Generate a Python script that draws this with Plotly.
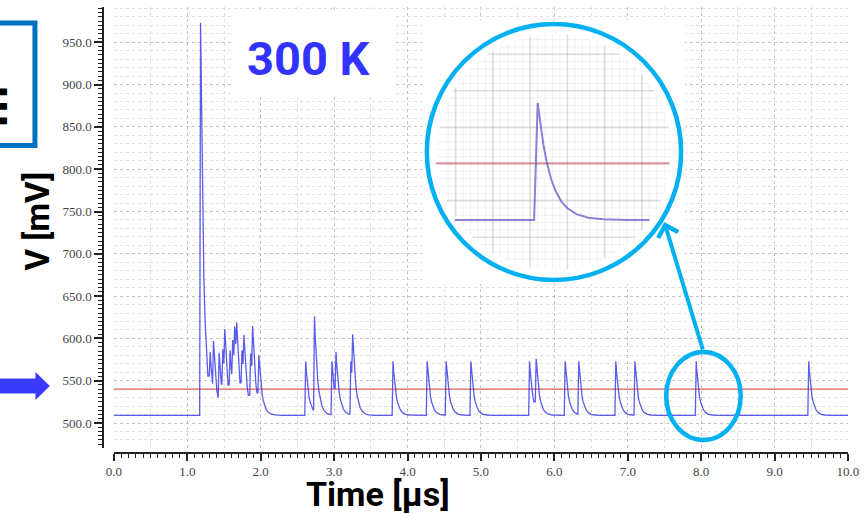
import numpy as np
import plotly.graph_objects as go

# ---------------- data ----------------
BASELINE_MV = 509.0
THRESHOLD_MV = 540.0
TIME_RANGE_US = [0.0, 10.0]
THRESH_T_US = [0.0, 10.0]
THRESH_V_MV = [540.0, 540.0]

SPIKE_TIMES_US = [1.168, 1.299, 1.344, 1.421, 1.471, 1.498, 1.570, 1.606, 1.633, 1.660,
                  1.732, 1.759, 1.850, 1.877, 1.962,
                  2.600, 2.720, 2.958, 3.013, 3.215, 3.240, 3.790, 4.255, 4.514, 4.850,
                  5.650, 5.740, 6.135, 6.320, 6.825, 7.085, 7.920, 9.453]
SPIKE_PEAKS_MV = [973, 584, 597, 583, 587, 611, 586, 598, 614, 619,
                  586, 604, 582, 615, 580,
                  573, 626, 573, 584, 573, 605, 573, 573, 573, 573,
                  573, 576, 573, 573, 573, 573, 573, 573]
RISE_US = 0.012
DECAY_OFFSETS_US = [0.0, 0.004, 0.01, 0.02, 0.03, 0.045, 0.06, 0.08, 0.10, 0.13, 0.17, 0.22, 0.30]
DECAY_FRACTIONS = [1.0, 0.93, 0.80, 0.63, 0.50, 0.35, 0.25, 0.155, 0.10, 0.05, 0.02, 0.007, 0.0]

X_TICKS = [0, 1, 2, 3, 4, 5, 6, 7, 8, 9, 10]
Y_TICKS = [500, 550, 600, 650, 700, 750, 800, 850, 900, 950]

INSET_SPIKE_T = 7.920           # the spike shown magnified in the circle
INSET_BLUE_WINDOW = [7.653, 8.307]
INSET_RED_WINDOW = [7.59, 8.373]

# ---------------- build the waveform from the spike list ----------------
wt = [TIME_RANGE_US[0]]
wv = [BASELINE_MV]
n = len(SPIKE_TIMES_US)
for i, (ts, pk) in enumerate(zip(SPIKE_TIMES_US, SPIKE_PEAKS_MV)):
    nxt = SPIKE_TIMES_US[i + 1] if i + 1 < n else TIME_RANGE_US[1]
    wt.append(ts)
    wv.append(wv[-1])
    tp = ts + RISE_US
    for off, fr in zip(DECAY_OFFSETS_US, DECAY_FRACTIONS):
        t = tp + off
        if t >= nxt:
            break
        wt.append(t)
        wv.append(BASELINE_MV + (pk - BASELINE_MV) * fr)
wt.append(TIME_RANGE_US[1])
wv.append(BASELINE_MV)
wt = np.array(wt)
wv = np.array(wv)

sel = (wt > INSET_BLUE_WINDOW[0]) & (wt < INSET_BLUE_WINDOW[1])
it = np.concatenate([[INSET_BLUE_WINDOW[0]], wt[sel], [INSET_BLUE_WINDOW[1]]])
iv = np.concatenate([[BASELINE_MV], wv[sel], [BASELINE_MV]])

# ---------------- pixel geometry helpers ----------------
W, H = 866, 516
ML, MR, MT, MB = 103, 13, 7, 63
PW, PH = W - ML - MR, H - MT - MB


def px(x):
    return (x - ML) / PW


def py(y):
    return (H - MB - y) / PH


# main axes
X_PIX = (114, 853)
Y_PIX = (7, 448)
Y_RANGE = [500 - (448 - 423) / 0.846, 500 + (423 - 7) / 0.846]

# inset (magnifier) geometry
CX, CY, R = 557, 152, 128
IX0, IX1, IY0, IY1 = 425, 689, 20, 284
I_T_PIX, I_PX_PER_US = 537, 300.0
I_BASE_PIX, I_PX_PER_MV = 220, 1.828


def ix(p):
    return INSET_SPIKE_T + (p - I_T_PIX) / I_PX_PER_US


def iy(p):
    return BASELINE_MV + (I_BASE_PIX - p) / I_PX_PER_MV


fig = go.Figure()

# empty traces that only carry the overlay grid axes
fig.add_trace(go.Scatter(x=[], y=[], xaxis="x3", yaxis="y", showlegend=False, hoverinfo="skip"))
fig.add_trace(go.Scatter(x=[], y=[], xaxis="x", yaxis="y3", showlegend=False, hoverinfo="skip"))

fig.add_trace(go.Scatter(x=THRESH_T_US, y=THRESH_V_MV, mode="lines",
                         line=dict(color="rgba(222,70,70,0.85)", width=1.3),
                         showlegend=False, hoverinfo="skip"))
fig.add_trace(go.Scatter(x=wt, y=wv, mode="lines",
                         line=dict(color="rgba(45,45,232,0.78)", width=1.3),
                         showlegend=False, hoverinfo="skip"))

# inset traces
fig.add_trace(go.Scatter(x=INSET_RED_WINDOW, y=[THRESHOLD_MV, THRESHOLD_MV], mode="lines",
                         xaxis="x2", yaxis="y2",
                         line=dict(color="rgba(205,70,90,0.55)", width=2),
                         showlegend=False, hoverinfo="skip"))
fig.add_trace(go.Scatter(x=it, y=iv, mode="lines", xaxis="x2", yaxis="y2",
                         line=dict(color="rgba(95,80,205,0.72)", width=2),
                         showlegend=False, hoverinfo="skip"))

shapes = []
# white disc of the magnifier (inset layer, below inset traces)
shapes.append(dict(type="circle", xref="x2", yref="y2", layer="below",
                   x0=ix(CX - R - 1), x1=ix(CX + R + 1), y0=iy(CY + R + 1), y1=iy(CY - R - 1),
                   fillcolor="white", line=dict(width=0)))
# inset grid (chords inside the circle)
RG = 118
for k in range(-40, 41):
    xp = 533 + k * 7.5
    d = xp - CX
    if abs(d) >= RG - 4:
        continue
    h = (RG ** 2 - d ** 2) ** 0.5
    major = (k % 5 == 0)
    shapes.append(dict(type="line", xref="x2", yref="y2", layer="below",
                       x0=ix(xp), x1=ix(xp), y0=iy(CY - h), y1=iy(CY + h),
                       line=dict(color="rgba(165,165,165,0.38)" if major else "rgba(205,205,205,0.28)",
                                 width=1.6 if major else 1)))
for k in range(-40, 41):
    yp = 164 + k * 7.32
    d = yp - CY
    if abs(d) >= RG - 4:
        continue
    h = (RG ** 2 - d ** 2) ** 0.5
    major = (k % 5 == 0)
    shapes.append(dict(type="line", xref="x2", yref="y2", layer="below",
                       x0=ix(CX - h), x1=ix(CX + h), y0=iy(yp), y1=iy(yp),
                       line=dict(color="rgba(165,165,165,0.38)" if major else "rgba(205,205,205,0.28)",
                                 width=1.6 if major else 1)))

# white box behind "300 K"
shapes.append(dict(type="rect", xref="paper", yref="paper", layer="above",
                   x0=px(233), x1=px(398), y0=py(97), y1=py(10),
                   fillcolor="white", line=dict(width=0)))
# magnifier circle outline
shapes.append(dict(type="circle", xref="paper", yref="paper", layer="above",
                   x0=px(CX - R), x1=px(CX + R), y0=py(CY + R), y1=py(CY - R),
                   line=dict(color="#00b0f0", width=4.5)))
# small ellipse around the spike at 8 us
shapes.append(dict(type="circle", xref="paper", yref="paper", layer="above",
                   x0=px(670), x1=px(745), y0=py(440), y1=py(352),
                   line=dict(color="#00b0f0", width=4.5)))
# left blue frame (partially cut)
shapes.append(dict(type="rect", xref="paper", yref="paper", layer="above",
                   x0=px(-20), x1=px(34.5), y0=py(145.5), y1=py(23),
                   line=dict(color="#0070c0", width=5)))
# left block arrow
pts = [(-6, 378.5), (35, 378.5), (35, 372), (49.5, 386), (35, 400), (35, 393.5), (-6, 393.5)]
path = "M " + " L ".join(f"{px(a):.5f},{py(b):.5f}" for a, b in pts) + " Z"
shapes.append(dict(type="path", xref="paper", yref="paper", layer="above", path=path,
                   fillcolor="#3a3aff", line=dict(width=0)))

BOLDF = "Roboto, Liberation Sans, Arial, sans-serif"
SERIF = "Liberation Serif, Times New Roman, DejaVu Serif, serif"

annotations = [
    dict(text="<b>300 K</b>", xref="paper", yref="paper", x=px(310), y=py(58),
         xanchor="center", yanchor="middle", showarrow=False,
         font=dict(family=BOLDF, size=47, color="#3333ff")),
    dict(text="<b>Time [µs]</b>", xref="paper", yref="paper", x=px(380), y=py(494),
         xanchor="center", yanchor="middle", showarrow=False,
         font=dict(family=BOLDF, size=34, color="black")),
    dict(text="<b>V [mV]</b>", xref="paper", yref="paper", x=px(37), y=py(221),
         xanchor="center", yanchor="middle", showarrow=False, textangle=-90,
         font=dict(family=BOLDF, size=33, color="black")),
    dict(text="<b>m</b>", xref="paper", yref="paper", x=px(-10), y=py(106),
         xanchor="center", yanchor="middle", showarrow=False, textangle=-90,
         font=dict(family=BOLDF, size=47, color="black")),
    dict(text="", xref="paper", yref="paper", x=px(668), y=py(222),
         ax=39, ay=129, showarrow=True, arrowhead=4, arrowsize=1, arrowwidth=4,
         arrowcolor="#00b0f0", standoff=0, startstandoff=0),
]

fig.update_layout(
    width=W, height=H,
    margin=dict(l=ML, r=MR, t=MT, b=MB, pad=0),
    paper_bgcolor="white", plot_bgcolor="white",
    showlegend=False,
    xaxis=dict(domain=[px(X_PIX[0]), px(X_PIX[1])], anchor="free", position=0,
               range=TIME_RANGE_US, tickvals=X_TICKS, tickformat=".1f",
               ticks="outside", ticklen=7, tickwidth=1.5, tickcolor="#222",
               showline=True, linecolor="#222", linewidth=1.5, zeroline=False,
               showgrid=True, gridcolor="#c4c4c4", griddash="dot", gridwidth=1,
               tickfont=dict(family=SERIF, size=13, color="#444"),
               minor=dict(dtick=0.1, ticklen=4, tickwidth=1.2, tickcolor="#222",
                          ticks="outside", showgrid=False)),
    yaxis=dict(domain=[py(Y_PIX[1]), py(Y_PIX[0])], anchor="free", position=0,
               range=Y_RANGE, tickvals=Y_TICKS, tickformat=".1f",
               ticks="outside", ticklen=8, tickwidth=1.5, tickcolor="#222",
               showline=True, linecolor="#222", linewidth=1.5, zeroline=False,
               showgrid=True, gridcolor="#c4c4c4", griddash="dot", gridwidth=1,
               tickfont=dict(family=SERIF, size=13, color="#444"),
               minor=dict(dtick=5, tick0=0, ticklen=4, tickwidth=1.2, tickcolor="#222",
                          ticks="outside", showgrid=False)),
    xaxis3=dict(overlaying="x", anchor="y", range=TIME_RANGE_US,
                tickvals=[v + 0.5 for v in X_TICKS[:-1]], showticklabels=False, ticks="",
                showline=False, zeroline=False, showgrid=True,
                gridcolor="#dedede", griddash="dot", gridwidth=1),
    yaxis3=dict(overlaying="y", anchor="x", range=Y_RANGE,
                tickvals=[v for v in range(470, 1000, 10) if v % 50], showticklabels=False,
                ticks="", showline=False, zeroline=False, showgrid=True,
                gridcolor="#dedede", griddash="dot", gridwidth=1),
    xaxis2=dict(domain=[px(IX0), px(IX1)], anchor="y2", range=[ix(IX0), ix(IX1)],
                visible=False, fixedrange=True),
    yaxis2=dict(domain=[py(IY1), py(IY0)], anchor="x2", range=[iy(IY1), iy(IY0)],
                visible=False, fixedrange=True),
    shapes=shapes,
    annotations=annotations,
)

fig.write_html("out.html")
